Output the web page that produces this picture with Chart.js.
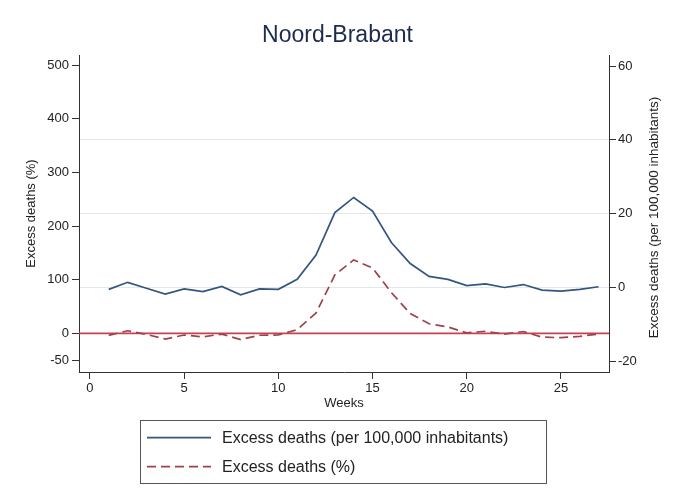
<!DOCTYPE html>
<html>
<head>
<meta charset="utf-8">
<script src="https://cdn.jsdelivr.net/npm/chart.js@4.4.1/dist/chart.umd.min.js"></script>
<style>
  html, body { margin: 0; padding: 0; background: #ffffff; }
  #wrap { width: 675px; height: 493px; position: relative; }
</style>
</head>
<body>
<div id="wrap"><canvas id="c" width="675" height="493"></canvas></div>
<script>
// ---- data ----
const weeks = [1, 2, 3, 4, 5, 6, 7, 8, 9, 10, 11, 12, 13, 14, 15, 16, 17, 18, 19, 20, 21, 22, 23, 24, 25, 26, 27];
const excessPer100k = [-0.5, 1.4, -0.2, -1.8, -0.4, -1.1, 0.3, -2.0, -0.4, -0.5, 2.2, 8.8, 20.3, 24.4, 20.7, 12.2, 6.5, 3.0, 2.2, 0.5, 1.0, 0.0, 0.8, -0.7, -1.0, -0.5, 0.2];
const excessPct = [-3.7, 4.9, -1.9, -10.5, -3.0, -6.5, -1.3, -11.5, -3.5, -3.0, 7, 38, 109, 137, 122, 76, 37, 18, 12, 1, 4, -1.5, 3.5, -7, -8, -5.5, -1.3];
const xTicks = [0, 5, 10, 15, 20, 25];
const leftTicks = [-50, 0, 100, 200, 300, 400, 500];
const rightTicks = [-20, 0, 20, 40, 60];
const rightGridValues = [0, 20, 40];
const referenceValuePct = 0;
const seriesLabels = ['Excess deaths (per 100,000 inhabitants)', 'Excess deaths (%)'];
const titleText = 'Noord-Brabant';
const xTitle = 'Weeks';
const leftTitle = 'Excess deaths (%)';
const rightTitle = 'Excess deaths (per 100,000 inhabitants)';

// ---- styling ----
const FONT = "'Liberation Sans', Arial, Helvetica, sans-serif";
Chart.defaults.font.family = FONT;
Chart.defaults.color = '#222222';
const BLUE = '#34557f';
const RED = '#a0424a';
const REFRED = '#c8414f';
const AXIS = '#333333';

const refLinePlugin = {
  id: 'refLine',
  beforeDatasetsDraw(chart) {
    const {ctx, chartArea, scales} = chart;
    const y = scales.y.getPixelForValue(referenceValuePct);
    ctx.save();
    ctx.strokeStyle = REFRED;
    ctx.lineWidth = 1.6;
    ctx.beginPath();
    ctx.moveTo(chartArea.left, y);
    ctx.lineTo(chartArea.right, y);
    ctx.stroke();
    ctx.restore();
  }
};

const rightTitlePlugin = {
  id: 'rightTitle',
  afterDraw(chart) {
    const {ctx, chartArea} = chart;
    ctx.save();
    ctx.translate(654, (chartArea.top + chartArea.bottom) / 2 + 4);
    ctx.rotate(-Math.PI / 2);
    ctx.font = "13.5px " + FONT;
    ctx.fillStyle = '#222222';
    ctx.textAlign = 'center';
    ctx.textBaseline = 'middle';
    ctx.fillText(rightTitle, 0, 0);
    ctx.restore();
  }
};

const boxLegendPlugin = {
  id: 'boxLegend',
  afterDraw(chart) {
    const {ctx} = chart;
    const box = {left: 140.5, top: 420.5, right: 546.5, bottom: 483.5};
    ctx.save();
    ctx.strokeStyle = '#555555';
    ctx.lineWidth = 1;
    ctx.strokeRect(box.left, box.top, box.right - box.left, box.bottom - box.top);
    const rows = [437.7, 466.7];
    chart.data.datasets.forEach((ds, i) => {
      const y = rows[i];
      ctx.strokeStyle = ds.borderColor;
      ctx.lineWidth = ds.borderWidth;
      ctx.setLineDash(ds.borderDash || []);
      ctx.beginPath();
      ctx.moveTo(147, y);
      ctx.lineTo(211, y);
      ctx.stroke();
      ctx.setLineDash([]);
      ctx.font = "16px " + FONT;
      ctx.fillStyle = '#222222';
      ctx.textAlign = 'left';
      ctx.textBaseline = 'middle';
      ctx.fillText(ds.label, 222, y + 1);
    });
    ctx.restore();
  }
};

new Chart(document.getElementById('c'), {
  type: 'line',
  data: {
    labels: weeks,
    datasets: [
      {
        label: seriesLabels[0],
        data: weeks.map((w, i) => ({x: w, y: excessPer100k[i]})),
        yAxisID: 'y1',
        borderColor: BLUE,
        borderWidth: 1.7,
        pointRadius: 0,
        tension: 0,
        fill: false
      },
      {
        label: seriesLabels[1],
        data: weeks.map((w, i) => ({x: w, y: excessPct[i]})),
        yAxisID: 'y',
        borderColor: RED,
        borderWidth: 1.7,
        borderDash: [9, 5],
        pointRadius: 0,
        tension: 0,
        fill: false
      }
    ]
  },
  options: {
    responsive: false,
    devicePixelRatio: 1,
    animation: false,
    layout: { padding: { top: 0, left: 0, right: 0, bottom: 78 } },
    plugins: {
      legend: { display: false },
      tooltip: { enabled: false },
      title: {
        display: true,
        text: titleText,
        color: '#1d2b50',
        font: { size: 23, weight: 'normal', family: FONT },
        padding: { top: 22, bottom: 5.4 }
      }
    },
    scales: {
      x: {
        type: 'linear',
        position: 'bottom',
        min: -0.58,
        max: 27.55,
        afterBuildTicks: s => { s.ticks = xTicks.map(v => ({value: v})); },
        afterFit: s => { s.height = 43; },
        border: { display: true, color: AXIS, width: 1 },
        grid: { drawOnChartArea: false, tickLength: 7, tickColor: AXIS, lineWidth: 1 },
        ticks: { font: { size: 13 }, color: '#222222', padding: 2, maxRotation: 0 },
        title: { display: true, text: xTitle, font: { size: 13 }, color: '#222222', padding: { top: 0, bottom: 4.2 } }
      },
      y: {
        type: 'linear',
        position: 'left',
        min: -72,
        max: 519,
        afterBuildTicks: s => { s.ticks = leftTicks.map(v => ({value: v})); },
        afterFit: s => { s.width = 79; },
        border: { display: true, color: AXIS, width: 1 },
        grid: { drawOnChartArea: false, tickLength: 7, tickColor: AXIS, lineWidth: 1 },
        ticks: { font: { size: 13 }, color: '#222222', padding: 3 },
        title: { display: true, text: leftTitle, font: { size: 13 }, color: '#222222', padding: { top: 24, bottom: 0 } }
      },
      y1: {
        type: 'linear',
        position: 'right',
        min: -22.9,
        max: 63,
        afterBuildTicks: s => { s.ticks = rightTicks.map(v => ({value: v})); },
        afterFit: s => { s.width = 66; },
        border: { display: true, color: AXIS, width: 1 },
        grid: {
          drawOnChartArea: true,
          tickLength: 7,
          tickColor: AXIS,
          lineWidth: 1,
          color: c => (c.tick && rightGridValues.includes(c.tick.value)) ? '#e1eaeb' : 'rgba(0,0,0,0)'
        },
        ticks: { font: { size: 13 }, color: '#222222', padding: 2 }
      }
    }
  },
  plugins: [refLinePlugin, rightTitlePlugin, boxLegendPlugin]
});
</script>
</body>
</html>
